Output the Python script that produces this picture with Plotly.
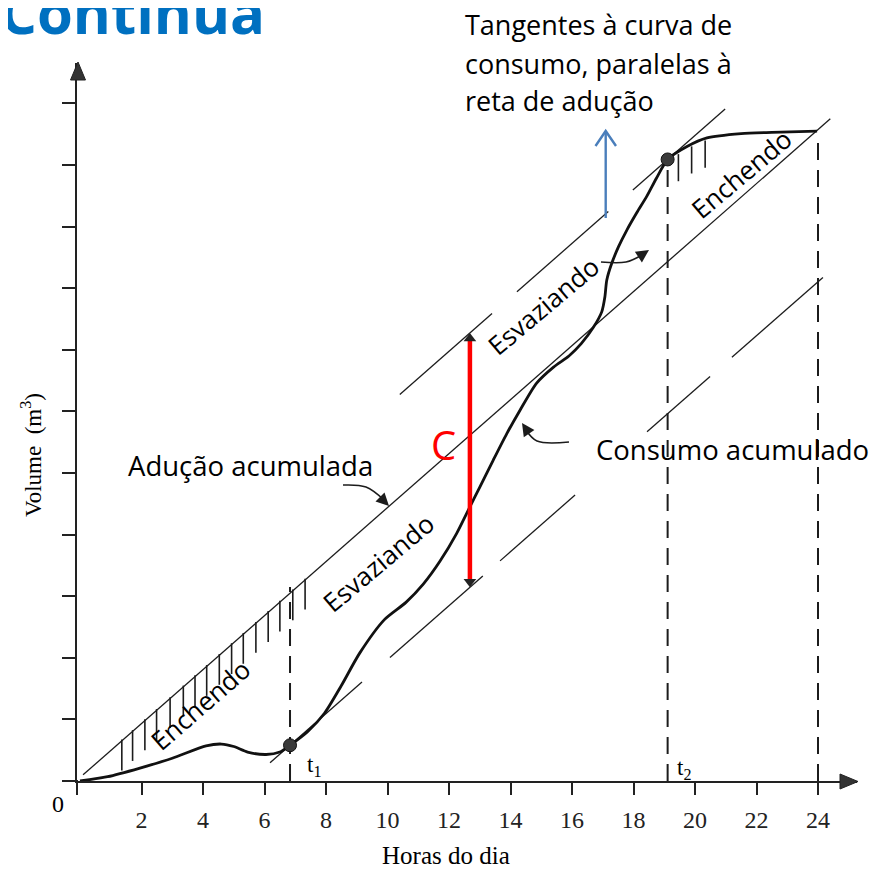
import numpy as np
import plotly.graph_objects as go

# ---------------- data ----------------
horas_ticks = [2, 4, 6, 8, 10, 12, 14, 16, 18, 20, 22, 24]
horas_ticktext = [str(h) for h in horas_ticks]
volume_ticks = [1, 2, 3, 4, 5, 6, 7, 8, 9, 10, 11]

consumo_horas = [0, 0.9, 1.95, 3.0, 4.1, 4.6, 5.0, 5.45, 6.05, 6.5, 6.83, 7.4, 7.95, 8.5,
                 9.1, 9.9, 10.6, 11.17, 11.71, 12.25, 12.68, 13.01, 13.44, 13.88, 14.31,
                 14.85, 15.4, 15.9, 16.3, 16.69, 16.97, 17.07, 17.13, 17.29, 17.51, 17.78,
                 18.1, 18.43, 18.75, 19.11, 19.74, 20.39, 21.5, 22.5, 23.97]
consumo_volume = [0, 0.07, 0.21, 0.37, 0.57, 0.6, 0.56, 0.47, 0.43, 0.47, 0.58, 0.80, 1.10, 1.55,
                  2.08, 2.62, 2.90, 3.2, 3.57, 4.02, 4.45, 4.78, 5.21, 5.64, 6.02,
                  6.46, 6.72, 6.9, 7.1, 7.36, 7.62, 7.86, 8.13, 8.40, 8.67, 8.94,
                  9.22, 9.49, 9.79, 10.09, 10.30, 10.44, 10.51, 10.53, 10.55]

aducao_horas = [0.1, 24.4]
aducao_volume = [0.1, 10.75]

t1_hora = 6.83
t2_hora = 19.11
fim_hora = 24.0
c_hora = 12.68

hachura_enchendo_1 = [1.36, 1.71, 2.11, 2.49, 2.93, 3.36, 3.74, 4.12, 4.53, 4.93,
                      5.31, 5.72, 6.12, 6.50, 6.92, 7.32]
hachura_enchendo_2 = [19.46, 19.89, 20.33]

tangente_inferior_trechos = [(6.18, 9.17), (10.08, 13.1), (13.66, 16.1), (18.44, 20.49), (21.2, 24.16)]
tangente_superior_trechos = [(10.4, 13.4), (14.21, 17.18), (17.98, 20.98)]

# ---------------- geometry helpers (screen pixel <-> axis) ----------------
PAGE_OFF = 8  # default body margin of the html page
X0, PXH, Y0, PXV = 80.0, 30.75, 781.0, 61.6
L, R, T, B = 77.0, 857.0, 63.0, 781.0
W, H = 885 - PAGE_OFF, 870 - PAGE_OFF


def t_of(px):
    return (px - X0) / PXH


def v_of(py):
    return (Y0 - py) / PXV


def xp(px):
    return (px - L) / (R - L)


def yp(py):
    return (B - py) / (B - T)


slope = (aducao_volume[1] - aducao_volume[0]) / (aducao_horas[1] - aducao_horas[0])


def aducao(t):
    return aducao_volume[0] + slope * (t - aducao_horas[0])


def consumo(t):
    return float(np.interp(t, consumo_horas, consumo_volume))


v_t1 = consumo(t1_hora)
v_t2 = consumo(t2_hora)


def tang_inf(t):
    return v_t1 + slope * (t - t1_hora)


def tang_sup(t):
    return v_t2 + slope * (t - t2_hora)


INK = "#1c1c1c"
fig = go.Figure()

# adução line
fig.add_trace(go.Scatter(x=aducao_horas, y=aducao_volume, mode="lines",
                         line=dict(color=INK, width=1.3), cliponaxis=False, hoverinfo="skip"))

# tangent segments
tx, ty = [], []
for a, b in tangente_inferior_trechos:
    tx += [a, b, None]
    ty += [tang_inf(a), tang_inf(b), None]
for a, b in tangente_superior_trechos:
    tx += [a, b, None]
    ty += [tang_sup(a), tang_sup(b), None]
fig.add_trace(go.Scatter(x=tx, y=ty, mode="lines", line=dict(color=INK, width=1.3),
                         cliponaxis=False, hoverinfo="skip"))

# hatches
hx, hy = [], []
for h in hachura_enchendo_1:
    top = aducao(h) + 0.02
    hx += [h, h, None]
    hy += [top, top - 0.5, None]
for h in hachura_enchendo_2:
    top = consumo(h) - 0.03
    hx += [h, h, None]
    hy += [top, top - 0.44, None]
fig.add_trace(go.Scatter(x=hx, y=hy, mode="lines", line=dict(color=INK, width=1.6),
                         hoverinfo="skip"))

# dashed verticals
dx = [t1_hora, t1_hora, None, t2_hora, t2_hora, None, fim_hora, fim_hora]
dy = [0, aducao(t1_hora) + 0.1, None, 0, v_t2, None, 0, consumo(fim_hora) - 0.1]
fig.add_trace(go.Scatter(x=dx, y=dy, mode="lines",
                         line=dict(color=INK, width=2, dash="17px,10px"),
                         cliponaxis=False, hoverinfo="skip"))

# consumption curve
fig.add_trace(go.Scatter(x=consumo_horas, y=consumo_volume, mode="lines",
                         line=dict(color="#111111", width=2.8, shape="spline", smoothing=0.7),
                         cliponaxis=False, hoverinfo="skip"))

# t1 / t2 points
fig.add_trace(go.Scatter(x=[t1_hora, t2_hora], y=[v_t1, v_t2], mode="markers",
                         marker=dict(size=13, color="#3a3a3a", line=dict(color="#111", width=1)),
                         hoverinfo="skip"))

# red C arrow
c_low, c_high = tang_inf(c_hora), tang_sup(c_hora)
off = 5.5 / PXV
fig.add_trace(go.Scatter(x=[c_hora, c_hora], y=[c_low + off, c_high - off], mode="lines",
                         line=dict(color="#ff0000", width=4.5), hoverinfo="skip"))
fig.add_trace(go.Scatter(x=[c_hora, c_hora], y=[c_high - off, c_low + off], mode="markers",
                         marker=dict(symbol=["triangle-up", "triangle-down"], size=11,
                                     color="#222"), hoverinfo="skip"))

# blue arrow (shaft + chevron)
bx = [t_of(605.7), t_of(605.7), None, t_of(595.5), t_of(605.7), t_of(616)]
by = [v_of(218), v_of(131), None, v_of(146), v_of(131), v_of(146)]
fig.add_trace(go.Scatter(x=bx, y=by, mode="lines", line=dict(color="#4a7ebb", width=2.4),
                         hoverinfo="skip"))

# curved pointer arrows (shafts)
shafts = [
    [(343, 485), (366, 487), (384, 500)],          # Adução acumulada
    [(569, 442), (537, 441), (526, 430)],          # Consumo acumulado
    [(601, 262), (626, 262), (642, 255)],          # Esvaziando
]
for s in shafts:
    fig.add_trace(go.Scatter(x=[t_of(p[0]) for p in s], y=[v_of(p[1]) for p in s],
                             mode="lines", line=dict(color=INK, width=1.5, shape="spline"),
                             hoverinfo="skip"))

annotations = []
heads = [((389, 506), -9, -9), ((522, 423), 6, 9), ((649, 250), -9, 6)]
for (hxp, hyp), ax, ay in heads:
    annotations.append(dict(x=t_of(hxp), y=v_of(hyp), xref="x", yref="y", text="",
                            showarrow=True, ax=ax, ay=ay, arrowhead=2, arrowsize=1.7,
                            arrowwidth=1.5, arrowcolor=INK, standoff=0))

SANS = "Open Sans"
SERIF = "Liberation Serif"


def txt(text, x, y, size, family=SANS, color="#000", angle=0, xanchor="center", yanchor="middle"):
    annotations.append(dict(text=text, x=xp(x), y=yp(y), xref="paper", yref="paper",
                            showarrow=False, textangle=angle, xanchor=xanchor, yanchor=yanchor,
                            font=dict(family=family, size=size, color=color)))


txt("<b>Continua</b>", -2, 12, 58, color="#0070c0", xanchor="left")
txt("Tangentes à curva de", 463, 25, 27, xanchor="left")
txt("consumo, paralelas à", 463, 63, 27, xanchor="left")
txt("reta de adução", 463, 101, 27, xanchor="left")
txt("Adução acumulada", 250, 465, 27.5)
txt("Consumo acumulado", 732, 449, 27.5)
txt("C", 443, 444, 40, color="#ff0000")
txt("Enchendo", 200, 705, 26, angle=-41)
txt("Esvaziando", 378, 563, 26, angle=-40)
txt("Esvaziando", 543, 306, 26, angle=-40)
txt("Enchendo", 741, 174, 26, angle=-40)
txt("t<sub>1</sub>", 314, 766, 23, family=SERIF)
txt("t<sub>2</sub>", 684, 769, 23, family=SERIF)
txt("0", 58, 804, 24, family=SERIF)
txt("Volume  (m<sup>3</sup>)", 31, 455, 23, family=SERIF, angle=-90)
txt("Horas do dia", 446, 855, 25, family=SERIF)

axis_style = dict(color="#222", width=2)
shapes = [
    dict(type="path", xref="paper", yref="paper", fillcolor="#333", line=dict(color="#222", width=1),
         path=f"M {xp(858)} {yp(781.5)} L {xp(840)} {yp(774)} L {xp(840)} {yp(789)} Z"),
    dict(type="path", xref="paper", yref="paper", fillcolor="#333", line=dict(color="#222", width=1),
         path=f"M {xp(78)} {yp(62)} L {xp(70.5)} {yp(80)} L {xp(85.5)} {yp(80)} Z"),
    # axis stubs beyond the origin
    dict(type="line", xref="paper", yref="paper", x0=xp(62), x1=xp(78), y0=yp(781), y1=yp(781),
         line=axis_style),
    dict(type="line", xref="paper", yref="paper", x0=xp(77), x1=xp(77), y0=yp(781), y1=yp(795),
         line=axis_style),
]

fig.update_layout(
    width=W, height=H,
    margin=dict(l=int(L - PAGE_OFF), r=int(W - (R - PAGE_OFF)), t=int(T - PAGE_OFF),
                b=int(H - (B - PAGE_OFF)), pad=0, autoexpand=False),
    paper_bgcolor="white", plot_bgcolor="white", showlegend=False,
    annotations=annotations, shapes=shapes,
    xaxis=dict(range=[t_of(L), t_of(R)], showgrid=False, zeroline=False, showline=True,
               linecolor="#222", linewidth=2, ticks="outside", ticklen=12, tickwidth=2,
               tickcolor="#222", tickvals=horas_ticks, ticktext=horas_ticktext,
               tickfont=dict(family=SERIF, size=24, color="#222"), ticklabelstandoff=4,
               automargin=False),
    yaxis=dict(range=[0, v_of(T)], showgrid=False, zeroline=False, showline=True,
               linecolor="#222", linewidth=2, ticks="outside", ticklen=13, tickwidth=2,
               tickcolor="#222", tickvals=volume_ticks, showticklabels=False,
               automargin=False),
)

fig.write_html("out.html")
